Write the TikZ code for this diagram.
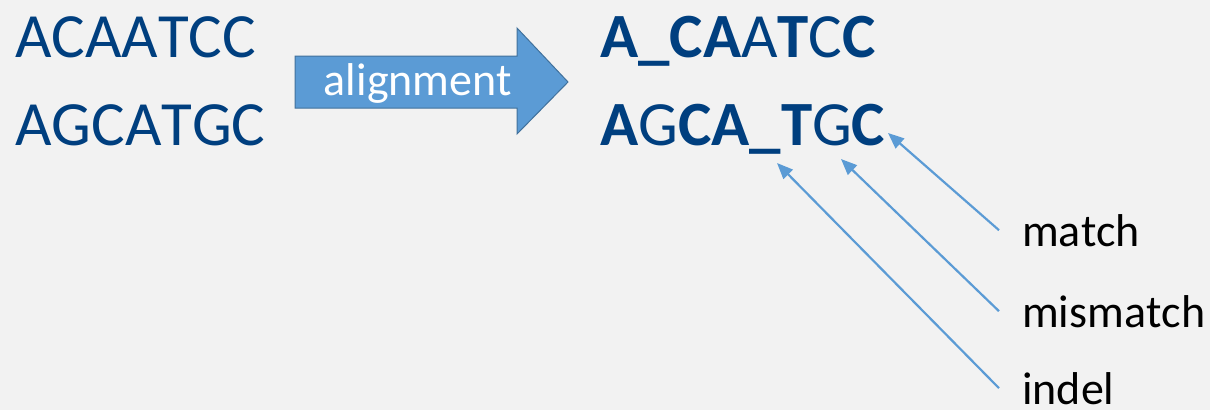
\documentclass[tikz,border=0pt]{standalone}
\usepackage{fontspec}
\setmainfont{Carlito}[Kerning=Off]
\usetikzlibrary{arrows.meta}
\definecolor{seqblue}{RGB}{0,63,127}
\definecolor{arrowblue}{RGB}{91,155,213}
\definecolor{arrowedge}{RGB}{65,113,156}
\definecolor{bggray}{RGB}{242,242,242}

\begin{document}
\begin{tikzpicture}
  [x=1pt,y=-1pt,
   seq/.style={anchor=base west,inner sep=0,text=seqblue,font=\fontsize{63}{70}\selectfont},
   tag/.style={anchor=base west,inner xsep=23pt,inner ysep=0,font=\fontsize{46}{50}\selectfont},
   pointer/.style={arrowblue,line width=2.2pt,-{Triangle[length=16pt,width=13pt]}}]
  \fill[bggray] (0,0) rectangle (1210,410);
  \useasboundingbox (0,0) rectangle (1210,410);
  % input sequences
  \node[seq] (s1) at (15,57) {ACAATCC};
  \node[seq] (s2) at (15,145) {AGCATGC};
  % block arrow
  \filldraw[fill=arrowblue,draw=arrowedge,line width=1pt]
    (295,56) -- (517,56) -- (517,28) -- (568,82) -- (517,134) -- (517,108) -- (295,108) -- cycle;
  \node[anchor=base,inner sep=0,text=white,font=\fontsize{46}{50}\selectfont] (align) at (418,95) {alignment};
  % aligned sequences
  \node[seq] (a1) at (600,57) {\textbf{A\_CA}A\textbf{T}C\textbf{C}};
  \node[seq] (a2) at (600,145) {\textbf{A}G\textbf{CA\_T}G\textbf{C}};
  % labels
  \node[tag] (match) at (999,246) {match};
  \node[tag] (mismatch) at (999,327) {mismatch};
  \node[tag] (indel) at (999,404) {indel};
  \coordinate (tmatch) at (888,133);
  \coordinate (tmismatch) at (841,159);
  \coordinate (tindel) at (777,163);
  \foreach \from/\to in {match/tmatch,mismatch/tmismatch,indel/tindel}
    \draw[pointer] (\from.west) -- (\to);
\end{tikzpicture}
\end{document}
